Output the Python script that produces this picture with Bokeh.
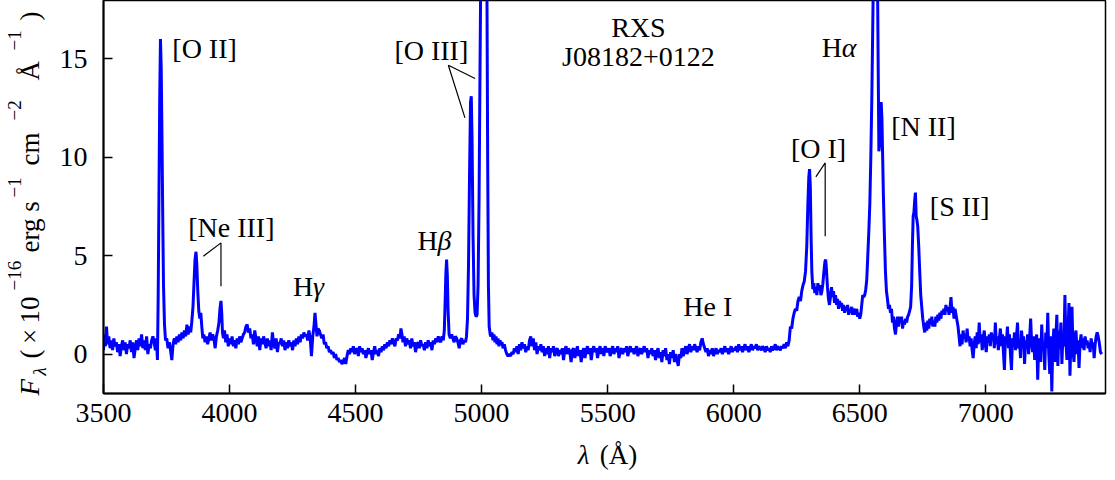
import math
from bokeh.plotting import figure
from bokeh.layouts import row, column
from bokeh.models import Range1d, FixedTicker, ColumnDataSource
from bokeh.embed import file_html
from bokeh.resources import INLINE
from bokeh.core.properties import value

FONT = "Liberation Serif"

# ---------------- spectrum (wavelength in Angstrom, flux in 1e-16 erg/s/cm2/A) ----------------
spec_uv = [
    (3500, 0.2), (3504, 1.0), (3508, 0.4), (3512, 1.4), (3516, 0.5), (3521, 0.9), (3526, 0.3), (3531, 0.7),
    (3536, 0.2), (3541, 0.8), (3546, 0.4), (3551, 0.6), (3556, 0.1), (3561, 0.5), (3566, -0.1), (3571, 0.4),
    (3576, 0.7), (3581, 0.2), (3586, 0.6), (3591, 0.0), (3596, 0.5), (3601, 0.3), (3606, 0.7), (3611, 0.1),
    (3616, 0.6), (3621, -0.2), (3626, 0.3), (3631, 0.7), (3636, 0.2), (3641, 0.8), (3646, 0.4), (3651, 1.0),
    (3656, 0.3), (3661, 0.7), (3666, 0.2), (3671, 0.9), (3676, 0.0), (3681, 0.5), (3686, 0.3), (3691, 0.7),
    (3696, 0.9), (3701, 0.6), (3706, 0.2), (3710, 0.8), (3714, -0.3), (3717, 3.0), (3720, 8.0), (3723, 13.0),
    (3726, 16.0), (3729, 14.5), (3732, 11.0), (3735, 7.0), (3738, 3.5), (3742, 1.5), (3746, 0.7), (3751, 0.8),
    (3756, 0.3), (3761, 0.6), (3766, 0.2), (3771, -0.3), (3776, 0.5), (3781, 0.8), (3786, 0.5), (3791, 0.9),
    (3796, 0.6), (3801, 1.0), (3806, 0.7), (3811, 1.1), (3816, 0.8), (3821, 1.2), (3826, 0.9), (3831, 1.5),
    (3836, 1.0), (3841, 1.4), (3846, 1.1), (3850, 1.6), (3855, 2.4), (3859, 3.6), (3863, 4.8), (3867, 5.2),
    (3870, 4.6), (3874, 3.2), (3878, 2.2), (3882, 1.8), (3886, 2.1), (3890, 1.4), (3894, 0.8), (3898, 1.0),
    (3903, 0.6), (3908, 0.9), (3913, 0.5), (3918, 0.8), (3923, 1.1), (3928, 0.7), (3933, 1.0), (3938, 0.8),
    (3943, 0.3), (3948, 0.9), (3953, 1.2), (3958, 1.6), (3962, 2.3), (3966, 2.7), (3969, 2.1), (3972, 1.1),
    (3976, 0.8), (3980, 1.2), (3985, 0.6), (3990, 1.0), (3995, 0.4), (4000, 0.8), (4005, 0.5), (4010, 0.9),
    (4015, 0.4), (4020, 0.7), (4025, 0.3), (4030, 0.8), (4035, 0.5), (4040, 0.9), (4045, 0.6), (4050, 0.8),
    (4055, 1.0), (4060, 1.1), (4065, 1.4), (4070, 1.5), (4075, 1.1), (4080, 1.3), (4085, 0.8), (4090, 1.0),
    (4095, 0.5),
]

spec_blue = [
    (4100, 1.2), (4105, 0.8), (4110, 0.4), (4115, 0.9), (4120, 0.2), (4125, 0.8), (4130, 0.5), (4135, 0.9),
    (4140, 0.6), (4145, 0.3), (4150, 0.8), (4155, 0.4), (4160, 0.7), (4165, 0.2), (4170, 1.1), (4175, 0.5),
    (4180, 0.3), (4185, 0.8), (4190, 0.1), (4195, 0.6), (4200, 0.5), (4205, 0.8), (4210, 0.4), (4215, 0.7),
    (4220, 0.2), (4225, 0.6), (4230, 0.3), (4235, 0.7), (4240, 0.4), (4245, 0.6), (4250, 0.2), (4255, 0.7),
    (4260, 0.4), (4265, 0.8), (4270, 0.5), (4275, 0.9), (4280, 0.6), (4285, 1.0), (4290, 0.8), (4295, 1.1),
    (4300, 0.9), (4305, 1.0), (4310, 0.7), (4315, 1.2), (4320, 0.8), (4325, -0.1), (4330, 0.9), (4335, 1.4),
    (4339, 2.1), (4343, 1.5), (4347, 0.9), (4351, 1.3), (4356, 1.2), (4361, 1.0), (4366, 0.8), (4371, 1.0),
    (4376, 0.5), (4381, 0.6), (4386, 0.3), (4391, 0.4), (4396, 0.1), (4401, 0.2), (4406, 0.0), (4411, 0.1),
    (4416, -0.2), (4421, 0.0), (4426, -0.3), (4431, -0.2), (4436, -0.4), (4441, -0.3), (4446, -0.5), (4451, -0.4),
    (4456, -0.2), (4461, -0.5), (4466, -0.1), (4471, 0.2), (4476, 0.0), (4481, 0.3), (4486, 0.1), (4491, 0.4),
    (4496, 0.0), (4501, 0.2), (4506, 0.3), (4511, -0.1), (4516, 0.4), (4521, 0.1), (4526, 0.3), (4531, 0.0),
    (4536, 0.2), (4541, -0.2), (4546, 0.1), (4551, 0.3), (4556, 0.0), (4561, 0.2), (4566, -0.3), (4571, 0.1),
    (4576, 0.4), (4581, 0.0), (4586, 0.2), (4591, -0.1), (4596, 0.3), (4601, 0.1), (4606, 0.4), (4611, 0.2),
    (4616, 0.5), (4621, 0.3), (4626, 0.6), (4631, 0.4), (4636, 0.7), (4641, 0.5), (4646, 0.8), (4651, 0.6),
    (4656, 0.4), (4661, 0.8), (4666, 0.7), (4671, 1.0), (4676, 0.8), (4680, 1.3), (4684, 1.0), (4688, 0.6),
    (4693, 0.9), (4698, 0.4), (4703, 0.8), (4708, 0.5), (4713, 0.7), (4718, 0.3), (4723, 0.8), (4728, 0.4),
    (4733, 0.6), (4738, 0.1), (4743, 0.5), (4748, 0.6), (4753, 0.3), (4758, 0.7), (4763, 0.4), (4768, 0.5),
    (4773, 0.2), (4778, 0.6), (4783, 0.3), (4788, 0.7), (4793, 0.4), (4798, 0.6), (4803, 0.2), (4808, 0.7),
    (4813, 0.5), (4818, 0.8), (4823, 0.6), (4828, 0.9), (4833, 0.7), (4838, 0.6), (4843, 0.9), (4848, 0.7),
    (4852, 1.2), (4855, 2.5), (4858, 4.0), (4861, 4.8), (4864, 4.0), (4867, 2.2), (4871, 1.0), (4876, 0.8),
    (4881, 1.0), (4886, 0.8), (4891, 0.6), (4896, 0.9),
]

spec_oiii = [
    (4901, 0.8), (4906, 0.6), (4911, 0.3), (4916, 0.7), (4921, 0.8), (4926, 0.5), (4931, 0.7), (4936, 0.6),
    (4940, 0.9), (4944, 1.8), (4948, 4.5), (4952, 9.0), (4956, 12.8), (4959, 13.1), (4962, 11.0), (4966, 6.0),
    (4970, 3.0), (4974, 2.1), (4978, 1.9), (4982, 2.0), (4986, 3.5), (4990, 8.0), (4994, 15.0), (4997, 20.0),
    (5002, 27.0), (5007, 30.0), (5012, 28.0), (5017, 24.0), (5021, 19.0), (5024, 10.0), (5027, 3.5), (5030, 1.4),
    (5034, 1.0), (5037, 0.9), (5041, 1.1), (5045, 0.7), (5049, 1.0), (5053, 0.6), (5057, 0.9), (5061, 0.5),
    (5065, 0.8), (5069, 0.4), (5073, 0.7), (5077, 0.5), (5081, 0.6), (5085, 0.3), (5090, 0.5), (5095, 0.2),
]

spec_green = [
    (5100, 0.0), (5105, -0.1), (5110, 0.0), (5115, -0.1), (5120, 0.1), (5125, 0.0), (5130, 0.3), (5135, 0.1),
    (5140, 0.4), (5145, 0.0), (5150, 0.5), (5155, 0.2), (5160, 0.6), (5165, 0.3), (5170, 0.5), (5175, 0.1),
    (5180, 0.4), (5185, 0.2), (5190, 0.7), (5195, 0.9), (5200, 0.4), (5205, 0.8), (5210, 0.2), (5215, 0.6),
    (5220, 0.0), (5225, 0.4), (5230, 0.2), (5235, 0.5), (5240, 0.1), (5245, 0.4), (5250, -0.1), (5255, 0.3),
    (5260, 0.0), (5265, 0.4), (5270, -0.2), (5275, 0.3), (5280, 0.1), (5285, 0.4), (5290, -0.1), (5295, 0.2),
    (5300, 0.3), (5305, -0.1), (5310, 0.2), (5315, 0.0), (5320, 0.3), (5325, -0.3), (5330, 0.2), (5335, 0.4),
    (5340, 0.0), (5345, 0.3), (5350, 0.1), (5355, -0.4), (5360, 0.2), (5365, 0.3), (5370, -0.2), (5375, 0.1),
    (5380, 0.4), (5385, -0.1), (5390, 0.2), (5395, -0.4), (5400, 0.1), (5405, 0.3), (5410, -0.2), (5415, 0.2),
    (5420, 0.4), (5425, 0.0), (5430, 0.3), (5435, -0.3), (5440, 0.2), (5445, 0.4), (5450, 0.1), (5455, 0.3),
    (5460, -0.2), (5465, 0.2), (5470, 0.4), (5475, 0.0), (5480, 0.3), (5485, -0.1), (5490, 0.4), (5495, 0.2),
    (5500, 0.1), (5505, 0.3), (5510, -0.1), (5515, 0.2), (5520, 0.4), (5525, 0.0), (5530, 0.3), (5535, 0.1),
    (5540, 0.4), (5545, -0.2), (5550, 0.2), (5555, 0.3), (5560, 0.0), (5565, 0.3), (5570, 0.1), (5575, 0.4),
    (5580, -0.1), (5585, 0.2), (5590, 0.4), (5595, 0.1), (5600, 0.3), (5605, 0.0), (5610, 0.2), (5615, 0.4),
    (5620, -0.1), (5625, 0.2), (5630, 0.3), (5635, 0.0), (5640, 0.2), (5645, 0.4), (5650, 0.1), (5655, 0.3),
    (5660, -0.2), (5665, 0.2), (5670, 0.0), (5675, 0.3), (5680, -0.1), (5685, 0.2), (5690, -0.3), (5695, 0.1),
    (5700, 0.3), (5705, -0.2), (5710, 0.1), (5715, -0.4), (5720, 0.2), (5725, -0.1), (5730, 0.3), (5735, -0.3),
    (5740, 0.0), (5745, -0.5), (5750, 0.1), (5755, -0.2), (5760, 0.2), (5765, -0.4), (5770, 0.0), (5775, -0.3),
    (5780, -0.6), (5785, 0.0), (5790, -0.2), (5795, 0.3), (5800, -0.1), (5805, 0.2), (5810, 0.4), (5815, 0.0),
    (5820, 0.3), (5825, 0.5), (5830, 0.1), (5835, 0.4), (5840, 0.2), (5845, 0.5), (5850, 0.3), (5855, 0.1),
    (5860, 0.4), (5865, 0.2), (5870, 0.6), (5875, 0.8), (5880, 0.5), (5885, 0.3), (5890, 0.1), (5895, 0.3),
    (5900, -0.1), (5905, 0.2), (5910, 0.0), (5915, 0.3), (5920, -0.1), (5925, 0.1), (5930, 0.3), (5935, 0.0),
    (5940, 0.2), (5945, 0.1), (5950, 0.3), (5955, 0.0), (5960, 0.2), (5965, 0.4), (5970, 0.1), (5975, 0.3),
    (5980, 0.0), (5985, 0.2), (5990, 0.4), (5995, 0.1), (6000, 0.3), (6005, 0.2), (6010, 0.4), (6015, 0.1),
    (6020, 0.5), (6025, 0.2), (6030, 0.4), (6035, 0.1), (6040, 0.3), (6045, 0.5), (6050, 0.2), (6055, 0.4),
    (6060, 0.1), (6065, 0.3), (6070, 0.5), (6075, 0.2), (6080, 0.4), (6085, 0.3), (6090, 0.5), (6095, 0.2),
    (6100, 0.4), (6105, 0.3), (6110, 0.2), (6115, 0.4), (6120, 0.3), (6125, 0.1), (6130, 0.4), (6135, 0.2),
    (6140, 0.3), (6145, 0.1), (6150, 0.4), (6155, 0.2), (6160, 0.3), (6165, 0.5), (6170, 0.2), (6175, 0.4),
    (6180, 0.3), (6185, 0.2), (6190, 0.4), (6195, 0.3),
]

spec_red = [
    (6200, 0.5), (6205, 0.3), (6210, 0.6), (6215, 0.4), (6220, 0.7), (6225, 1.4), (6230, 1.3), (6235, 1.8),
    (6240, 2.1), (6245, 2.3), (6250, 2.2), (6255, 2.7), (6260, 2.9), (6265, 2.7), (6270, 3.2), (6275, 3.5),
    (6280, 3.7), (6285, 4.2), (6290, 5.5), (6294, 7.5), (6298, 9.0), (6301, 9.4), (6304, 8.5), (6307, 6.0),
    (6310, 4.2), (6314, 3.3), (6318, 3.6), (6322, 3.1), (6326, 3.4), (6330, 3.0), (6334, 3.6), (6338, 3.3),
    (6342, 3.5), (6346, 3.0), (6350, 3.2), (6354, 3.6), (6358, 4.2), (6362, 4.7), (6365, 4.8), (6368, 4.3),
    (6372, 3.4), (6376, 2.8), (6380, 2.5), (6384, 2.9), (6388, 3.4), (6392, 2.9), (6396, 3.2), (6400, 2.6),
    (6404, 3.0), (6408, 2.5), (6412, 2.8), (6416, 2.3), (6420, 2.7), (6424, 2.4), (6428, 2.6), (6432, 2.2),
    (6436, 2.5), (6440, 2.1), (6444, 2.4), (6448, 2.2), (6452, 2.5), (6456, 2.0), (6460, 2.3), (6464, 2.1),
    (6468, 2.4), (6472, 2.0), (6476, 2.3), (6480, 2.2), (6484, 2.0), (6488, 2.3), (6492, 1.9), (6496, 2.1),
    (6500, 1.8), (6504, 2.0), (6508, 2.5), (6512, 3.0), (6516, 2.9), (6520, 3.0), (6524, 3.3), (6528, 3.8),
    (6532, 5.0), (6536, 6.2), (6540, 7.6), (6544, 10.0), (6548, 13.0), (6551, 16.0), (6554, 19.0), (6558, 24.0),
    (6562, 26.0), (6566, 24.0), (6570, 20.0), (6573, 15.0), (6576, 10.3), (6579, 10.6), (6582, 12.2), (6585, 12.8),
    (6588, 12.0), (6591, 10.0), (6594, 8.0), (6598, 6.0), (6602, 4.2), (6606, 3.2), (6610, 2.8), (6614, 2.3),
    (6618, 2.5), (6622, 2.1), (6626, 2.3), (6630, 1.6), (6634, 1.9), (6638, 1.3), (6642, 1.0), (6646, 1.6),
    (6650, 1.9), (6654, 1.4), (6658, 1.9), (6662, 1.6), (6666, 1.9), (6670, 1.3), (6674, 1.7), (6678, 1.5),
    (6682, 1.8), (6686, 1.6), (6690, 1.9), (6694, 2.0), (6698, 2.2), (6702, 2.4), (6706, 3.5), (6709, 5.5),
    (6712, 7.0), (6715, 7.2), (6718, 7.8), (6721, 8.2), (6724, 7.0), (6727, 6.8), (6730, 6.5), (6734, 5.5),
    (6738, 4.2), (6742, 3.0), (6746, 2.4), (6750, 1.8), (6754, 1.4), (6758, 1.1), (6762, 1.6), (6766, 1.2),
    (6770, 1.7), (6774, 1.3), (6778, 1.8), (6782, 1.5), (6786, 1.9), (6790, 1.4), (6794, 1.7), (6798, 1.4),
    (6802, 1.9), (6806, 1.6), (6810, 2.0), (6814, 1.7), (6818, 2.1), (6822, 1.8), (6826, 2.2), (6830, 2.0),
    (6834, 2.3), (6838, 2.0), (6842, 2.5), (6846, 2.2), (6850, 2.4), (6854, 2.0), (6858, 2.3), (6862, 2.9),
    (6866, 2.1), (6870, 2.4), (6874, 1.8), (6878, 2.3), (6882, 2.0), (6886, 1.7), (6890, 1.4), (6894, 0.9),
]

spec_ir = [
    (6898, 0.4), (6902, 1.0), (6906, 0.5), (6910, 1.2), (6914, 0.8), (6918, 1.0), (6922, 0.6), (6926, 1.3),
    (6930, 0.7), (6934, 0.9), (6938, 0.4), (6942, 0.8), (6946, 0.2), (6950, -0.2), (6954, 0.5), (6958, 0.9),
    (6962, 0.3), (6966, 1.1), (6970, 0.5), (6974, 1.6), (6978, 0.6), (6982, 1.0), (6986, 0.2), (6990, 0.8),
    (6994, 1.2), (6998, 0.5), (7002, 0.1), (7006, 0.9), (7010, 0.6), (7014, 1.0), (7018, 0.4), (7022, 1.1),
    (7026, 0.7), (7030, 1.0), (7034, 0.3), (7038, 1.6), (7042, 0.5), (7046, 0.9), (7050, 0.2), (7054, 0.8),
    (7058, 1.3), (7062, 0.4), (7066, 1.0), (7070, 0.1), (7074, -0.8), (7078, 0.9), (7082, 0.6), (7086, 1.4),
    (7090, 0.3), (7094, 1.0), (7098, 0.0), (7102, -0.8), (7106, 0.8), (7110, 0.4), (7114, 1.1), (7118, 0.2),
    (7122, 0.9), (7126, 1.6), (7130, 0.3), (7134, 0.6), (7138, -0.2), (7142, 1.2), (7146, 0.5), (7150, 0.9),
    (7154, -0.5), (7158, 0.7), (7162, 0.3), (7166, 1.0), (7170, 0.0), (7174, 0.8), (7178, 1.8), (7182, 0.6),
    (7186, 0.1), (7190, 0.9), (7194, -0.3), (7198, 0.5), (7202, 1.0), (7206, -1.3), (7210, 0.4), (7214, 0.8),
    (7218, -0.4), (7222, 1.5), (7226, 0.2), (7230, 0.6), (7234, -0.8), (7238, 1.1), (7242, 0.3), (7246, 2.1),
    (7250, 0.0), (7254, -1.0), (7258, 0.9), (7262, -1.9), (7266, 0.5), (7270, 1.3), (7274, -0.4), (7278, 0.8),
    (7282, 2.0), (7286, -0.6), (7290, 1.2), (7294, 0.3), (7298, 1.6), (7302, -0.5), (7306, 0.9), (7310, 0.4),
    (7314, 3.0), (7318, 0.6), (7322, -0.3), (7326, 1.0), (7330, 2.6), (7334, -1.1), (7338, 0.8), (7342, 2.4),
    (7346, 0.2), (7350, -0.4), (7354, 0.9), (7358, 1.2), (7362, 0.0), (7366, 0.7), (7370, -0.7), (7374, 0.5),
    (7378, 1.0), (7382, 0.3), (7386, 0.8), (7390, 0.2), (7394, 0.9), (7398, 0.5), (7402, 0.7), (7406, 0.3),
    (7410, 0.6), (7414, 0.1), (7418, 0.8), (7422, 0.4), (7426, 0.6), (7430, -0.2), (7434, 0.5), (7438, 0.9),
    (7442, 1.1), (7446, 0.9), (7450, 0.6), (7455, 0.1), (7460, 0.0),
]

# ---------------- line identifications ----------------
label_text = ["[O II]", "[Ne III]", "H", "H", "[O III]", "RXS", "J08182+0122", "He I", "H", "[N II]", "[O I]", "[S II]"]
label_x = [3773, 3836, 4252, 4746, 4654, 5622, 5622, 5800, 6349, 6625, 6227, 6778]
label_y = [15.5, 6.45, 3.42, 5.79, 15.4, 16.6, 15.1, 2.4, 15.57, 11.54, 10.44, 7.48]
label_align = ["left", "left", "left", "left", "left", "center", "center", "left", "left", "left", "left", "left"]

greek_text = ["γ", "β", "α"]
greek_x = [4252, 4746, 6349]
greek_y = [3.42, 5.79, 15.57]

# leader lines (polylines in data units)
leader_x = [[3896, 3966, 3966], [4974, 4868, 4934], [6326, 6363, 6363]]
leader_y = [[4.97, 5.65, 3.45], [14.0, 14.67, 12.0], [9.0, 9.71, 5.99]]

x_ticks = [3500, 4000, 4500, 5000, 5500, 6000, 6500, 7000]
y_ticks = [0, 5, 10, 15]

# axis titles split into pieces: (text, italic, size px, anchor x px, anchor y px) in their own panels
y_title = [("F", True, 27, 29, 77), ("λ", True, 19, 39, 97), ("(\u2009×\u200910", False, 27, 29, 114),
           ("−16", False, 19, 14, 182), ("erg s", False, 27, 29, 220), ("−1", False, 19, 14, 275),
           ("cm", False, 27, 29, 307), ("−2", False, 19, 14, 352), ("Å", False, 27, 29, 392),
           ("−1", False, 19, 14, 422), (")", False, 27, 29, 452)]
x_title = [("λ", True, 27, 498, 18), ("(Å)", False, 27, 521, 18)]

# ---------------- main figure ----------------
all_pts = spec_uv + spec_blue + spec_oiii + spec_green + spec_red + spec_ir
wavelength = [a for a, b in all_pts]
flux = [b for a, b in all_pts]

YW = 55          # width of the panel holding the y title
MAIN_H = 435     # height of the main figure
TOTAL_W, TOTAL_H = 1107, 472

p = figure(width=TOTAL_W - YW, height=MAIN_H,
           x_range=Range1d(3500, 7475), y_range=Range1d(-2.0, 17.96),
           output_backend="svg", toolbar_location=None,
           min_border_left=48, min_border_right=2, min_border_top=0, min_border_bottom=42)
p.grid.visible = False
p.outline_line_color = "black"
p.outline_line_width = 1.5
p.background_fill_color = "white"
p.border_fill_color = "white"

p.line(wavelength, flux, line_color="#0000ff", line_width=3)
p.multi_line(leader_x, leader_y, line_color="black", line_width=1.2)

lab_src = ColumnDataSource(dict(x=label_x, y=label_y, text=label_text, align=label_align))
p.text(x="x", y="y", text="text", text_align="align", source=lab_src,
       text_baseline="alphabetic", text_font=value(FONT), text_font_size="28px", text_color="black")
gr_src = ColumnDataSource(dict(x=greek_x, y=greek_y, text=greek_text))
p.text(x="x", y="y", text="text", source=gr_src, x_offset=20,
       text_baseline="alphabetic", text_align="left", text_font=value(FONT),
       text_font_size="28px", text_font_style="italic", text_color="black")

for ax in (p.xaxis, p.yaxis):
    ax.axis_line_width = 2
    ax.axis_line_color = "black"
    ax.major_tick_in = 9
    ax.major_tick_out = 0
    ax.major_tick_line_width = 1.5
    ax.minor_tick_in = 0
    ax.minor_tick_out = 0
    ax.major_label_text_font = FONT
    ax.major_label_text_font_size = "28px"
    ax.major_label_text_color = "black"

p.xaxis.ticker = FixedTicker(ticks=x_ticks)
p.yaxis.ticker = FixedTicker(ticks=y_ticks)
p.xaxis.major_label_standoff = 10
p.yaxis.major_label_standoff = 16


def title_panel(w, h):
    f = figure(width=w, height=h, x_range=Range1d(0, w), y_range=Range1d(0, h),
               output_backend="svg", toolbar_location=None,
               x_axis_type=None, y_axis_type=None,
               min_border_left=0, min_border_right=0, min_border_top=0, min_border_bottom=0)
    f.grid.visible = False
    f.outline_line_color = None
    f.background_fill_color = "white"
    f.border_fill_color = "white"
    return f


# y title panel (left of the main figure)
ypanel = title_panel(YW, TOTAL_H)
for txt, ital, size, bx, by in y_title:
    ypanel.text(x=[bx], y=[by], text=[txt], angle=math.pi / 2,
                text_align="left", text_baseline="alphabetic",
                text_font=value(FONT), text_font_size=f"{size}px",
                text_font_style="italic" if ital else "normal", text_color="black")

# x title panel (below the main figure)
xpanel = title_panel(TOTAL_W - YW, TOTAL_H - MAIN_H)
for txt, ital, size, bx, by in x_title:
    xpanel.text(x=[bx], y=[by], text=[txt],
                text_align="left", text_baseline="alphabetic",
                text_font=value(FONT), text_font_size=f"{size}px",
                text_font_style="italic" if ital else "normal", text_color="black")

layout = row(ypanel, column(p, xpanel, spacing=0), spacing=0)

open("out.html", "w").write(file_html(layout, INLINE))
